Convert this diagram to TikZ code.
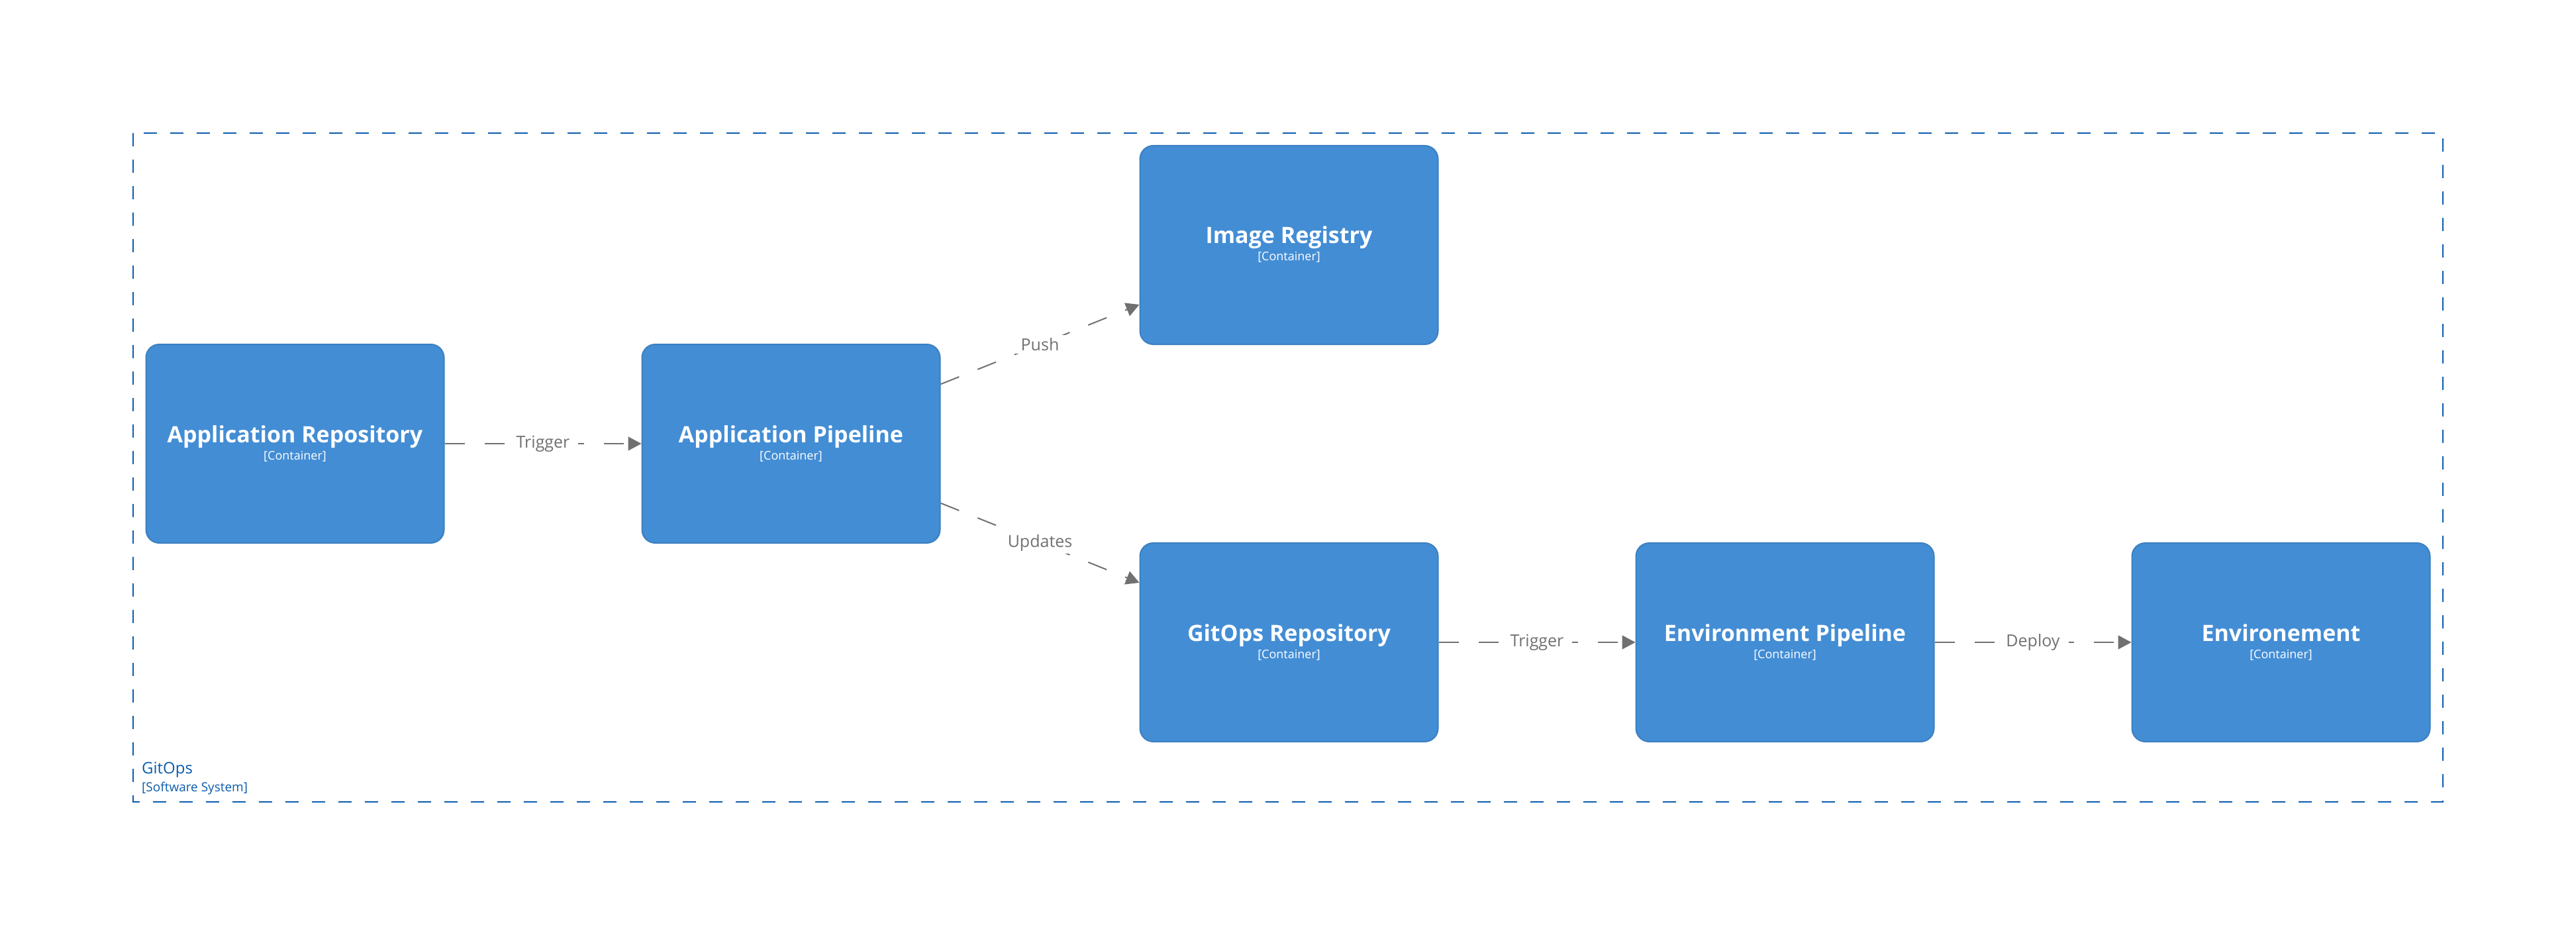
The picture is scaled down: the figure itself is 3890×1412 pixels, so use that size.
\documentclass[tikz,border=0pt]{standalone}
\usepackage{fontspec}
\setmainfont{Open Sans}
\usetikzlibrary{arrows.meta}
\definecolor{boxblue}{HTML}{438DD5}
\definecolor{boxline}{HTML}{3C7FC0}
\definecolor{relgrey}{HTML}{707070}
\definecolor{sysblue}{HTML}{0B5CAE}
\tikzset{
  container/.style={draw=boxline, line width=2pt, fill=boxblue, rounded corners=20pt,
    minimum width=450pt, minimum height=300pt, inner sep=0pt, text=white, align=center},
  rel/.style={draw=relgrey, line width=2pt, dash pattern=on 30pt off 30pt,
    -{Triangle[length=20pt,width=21pt]}},
  rellabel/.style={fill=white, text=relgrey, font=\fontsize{25}{28}\selectfont,
    inner xsep=13pt, inner ysep=4pt},
  sysline/.style={draw=sysblue, line width=2.5pt, dash pattern=on 20pt off 20pt}
}
\newcommand{\boxtitle}[1]{{\fontsize{34}{30}\selectfont\bfseries\rule[-9pt]{0pt}{36pt}#1}}
\newcommand{\boxkind}{{\fontsize{18}{30}\selectfont\rule[-5pt]{0pt}{21pt}[Container]}}

\begin{document}
\begin{tikzpicture}[x=1pt, y=-1pt]
  \useasboundingbox (0,0) rectangle (3890,1412);

  % software system boundary
  \draw[sysline] (201,201) rectangle (3689,1211);
  \node[anchor=west, text=sysblue, font=\fontsize{24}{26}\selectfont, inner sep=0pt] (sysname) at (214,1163) {GitOps};
  \node[anchor=west, text=sysblue, font=\fontsize{19}{22}\selectfont, inner sep=0pt] (syskind) at (214,1191) {[Software System]};

  % containers
  \node[container] (apprepo) at (445.5,670) {\boxtitle{Application Repository}\\\boxkind};
  \node[container] (apppipe) at (1194.5,670) {\boxtitle{Application Pipeline}\\\boxkind};
  \node[container] (imgreg) at (1946.5,370) {\boxtitle{Image Registry}\\\boxkind};
  \node[container] (gitrepo) at (1946.5,970) {\boxtitle{GitOps Repository}\\\boxkind};
  \node[container] (envpipe) at (2695.5,970) {\boxtitle{Environment Pipeline}\\\boxkind};
  \node[container] (env) at (3444.5,970) {\boxtitle{Environement}\\\boxkind};

  % relations
  \draw[rel] (apprepo) -- node[rellabel] {Trigger} (apppipe);
  \draw[rel] (apppipe) -- node[rellabel] {Push} (imgreg);
  \draw[rel] (apppipe) -- node[rellabel] {Updates} (gitrepo);
  \draw[rel] (gitrepo) -- node[rellabel] {Trigger} (envpipe);
  \draw[rel] (envpipe) -- node[rellabel] {Deploy} (env);
\end{tikzpicture}
\end{document}
